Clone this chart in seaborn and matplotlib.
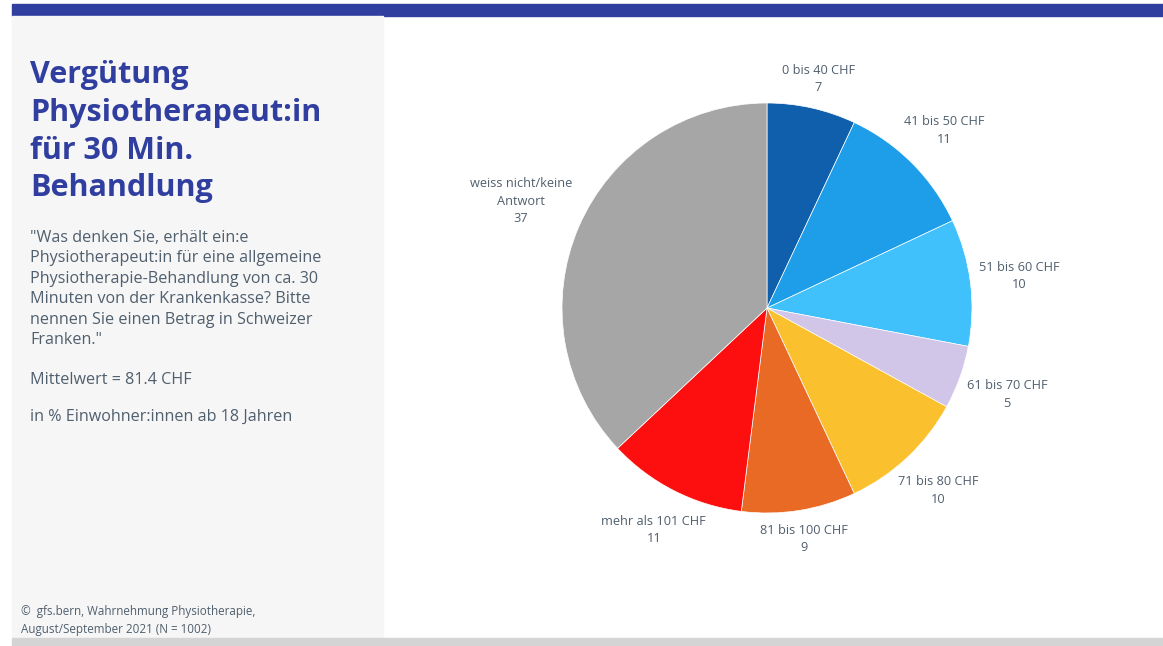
import matplotlib
matplotlib.use("Agg")
import numpy as np
import matplotlib.pyplot as plt
from matplotlib.patches import Rectangle
import seaborn as sns

# Survey answers: categories and shares in percent
categories = ["0 bis 40 CHF", "41 bis 50 CHF", "51 bis 60 CHF", "61 bis 70 CHF",
              "71 bis 80 CHF", "81 bis 100 CHF", "mehr als 101 CHF",
              "weiss nicht/keine\nAntwort"]
shares = [7, 11, 10, 5, 10, 9, 11, 37]
slice_colors = ["#0f5fad", "#1e9de8", "#41c1fc", "#d1c6e8",
                "#fbc02d", "#e86a25", "#fe0f0f", "#a6a6a6"]

title = "Vergütung\nPhysiotherapeut:in\nfür 30 Min.\nBehandlung"
question = ('"Was denken Sie, erhält ein:e\nPhysiotherapeut:in für eine allgemeine\n'
            'Physiotherapie-Behandlung von ca. 30\nMinuten von der Krankenkasse? Bitte\n'
            'nennen Sie einen Betrag in Schweizer\nFranken."')
mean_text = "Mittelwert = 81.4 CHF"
base_text = "in % Einwohner:innen ab 18 Jahren"
source = "©  gfs.bern, Wahrnehmung Physiotherapie,\nAugust/September 2021 (N = 1002)"

sns.set_theme(style="white")
plt.rcParams["font.family"] = ["Open Sans", "DejaVu Sans"]

W, H = 1163, 646
fig = plt.figure(figsize=(W / 100, H / 100), dpi=100)
fig.patch.set_facecolor("white")

def fx(px):
    return px / W

def fy(py):
    return 1 - py / H

# Frame: top band, side panel, bottom band
fig.add_artist(Rectangle((fx(12), fy(15.5)), fx(W - 12), 11.5 / H,
                         transform=fig.transFigure, color="#303f9f", zorder=0))
fig.add_artist(Rectangle((fx(12), fy(638)), fx(383 - 12), (638 - 15.5) / H,
                         transform=fig.transFigure, color="#f6f6f6", zorder=0))
fig.add_artist(Rectangle((fx(12), 0), fx(W - 12), 8 / H,
                         transform=fig.transFigure, color="#d4d4d4", zorder=0))

text_color = "#505f6e"
fig.text(fx(30), fy(60), title, color="#303f9f", fontsize=22, fontweight="bold",
         va="top", ha="left", linespacing=1.34)
fig.text(fx(30), fy(230), question, color=text_color, fontsize=11.6,
         va="top", ha="left", linespacing=1.37)
fig.text(fx(30), fy(380), mean_text, color=text_color, fontsize=11.6,
         va="center", ha="left")
fig.text(fx(30), fy(417), base_text, color=text_color, fontsize=11.6,
         va="center", ha="left")
fig.text(fx(21), fy(605), source, color=text_color, fontsize=8.4,
         va="top", ha="left", linespacing=1.45)

# Pie axes: centre (767, 308) px, radius 205 px
cx, cy, R = 767, 308, 205
half = 300
ax = fig.add_axes([fx(cx - half), fy(cy + half), 2 * half / W, 2 * half / H])
labels = [f"{c}\n{v}" for c, v in zip(categories, shares)]
wedges, texts = ax.pie(shares, labels=labels, colors=slice_colors, startangle=90,
                       counterclock=False, labeldistance=1.2,
                       wedgeprops=dict(edgecolor="white", linewidth=0.5),
                       textprops=dict(color=text_color, fontsize=9.2, linespacing=1.45))
lim = half / R
ax.set_xlim(-lim, lim)
ax.set_ylim(-lim, lim)
ax.set_aspect("equal")
ax.axis("off")

# Place each label just outside its wedge, centred, pushed out by half its box
renderer = fig.canvas.get_renderer()
gap_px = 7
for w, t in zip(wedges, texts):
    t.set_ha("center")
    t.set_va("center")
    t.set_multialignment("center")
    mid = np.deg2rad((w.theta1 + w.theta2) / 2)
    ux, uy = np.cos(mid), np.sin(mid)
    bb = t.get_window_extent(renderer)
    push = gap_px + bb.width / 2 * abs(ux) + bb.height / 2 * abs(uy)
    d = 1 + push / R
    t.set_position((d * ux, d * uy))

fig.savefig("out.png", dpi=100)
